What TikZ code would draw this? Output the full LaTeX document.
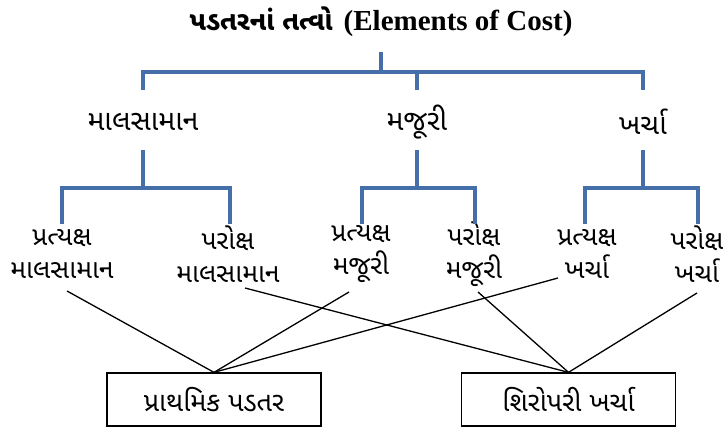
\documentclass[tikz,border=0pt]{standalone}
\usepackage{fontspec}
\setmainfont{Liberation Serif}
\newfontfamily\guj[Script=Gujarati]{Noto Sans Gujarati UI}
\usetikzlibrary{positioning}
\definecolor{treeblue}{HTML}{456FA8}

\begin{document}
\begin{tikzpicture}[x=1pt,y=-1pt,every node/.style={inner sep=0pt},
    head/.style={font=\guj\fontsize{28.5}{30}\selectfont},
    part/.style={align=center,font=\guj\fontsize{26.5}{33}\selectfont},
    branch/.style={draw=treeblue,line width=4.5pt},
    link/.style={draw,line width=1.3pt},
    costbox/.style={draw,line width=1.3pt,minimum width=214pt,minimum height=53pt,
      font=\guj\fontsize{27}{30}\selectfont}]
    \useasboundingbox (0,0) rectangle (723,428);
    % Title
    \node (title) at (381,22) {{\guj\bfseries\fontsize{26.5}{30}\selectfont પડતરનાં તત્વો}\hspace{11pt}%
      {\fontsize{29}{32}\selectfont\bfseries (Elements of Cost)}};
    % Elements
    \node[head] (mat) at (143,122) {માલસામાન};
    \node[head] (lab) at (417,122) {મજૂરી};
    \node[head] (exp) at (643,122) {ખર્ચા};
    % Direct / indirect
    \node[part] (dmat) at (62,254) {પ્રત્યક્ષ\\માલસામાન};
    \node[part] (imat) at (228,254) {પરોક્ષ\\માલસામાન};
    \node[part] (dlab) at (361,254) {પ્રત્યક્ષ\\મજૂરી};
    \node[part] (ilab) at (474,254) {પરોક્ષ\\મજૂરી};
    \node[part] (dexp) at (587,254) {પ્રત્યક્ષ\\ખર્ચા};
    \node[part] (iexp) at (697,254) {પરોક્ષ\\ખર્ચા};
    % Totals
    \node[costbox] (prime) at (214,399.5) {પ્રાથમિક પડતર};
    \node[costbox] (over) at (568.5,399.5) {શિરોપરી ખર્ચા};

    % Blue tree
    \coordinate (top) at (381,52);
    \draw[branch] (top) -- (381,72);
    \draw[branch] (143,90) -- (143,72) -- (643,72) -- (643,90);
    \draw[branch] (417,72) -- (417,90);
    \foreach \src/\l/\r in {mat/62/230,lab/362/475,exp/585/698}{
      \draw[branch] (\src.south |- 0,150) -- (\src.south |- 0,188);
      \draw[branch] (\l,224) -- (\l,188) -- (\r,188) -- (\r,224);
    }

    % Links to the totals
    \coordinate (dmat-end) at (67,291);
    \coordinate (imat-end) at (245,288);
    \coordinate (dlab-end) at (349,292);
    \coordinate (ilab-end) at (478,292);
    \coordinate (dexp-end) at (558,278);
    \coordinate (iexp-end) at (697,293);
    \foreach \src in {dmat,dlab,dexp}
      \draw[link] (\src-end) -- (prime.north);
    \foreach \src in {imat,ilab,iexp}
      \draw[link] (\src-end) -- (over.north);
\end{tikzpicture}
\end{document}
